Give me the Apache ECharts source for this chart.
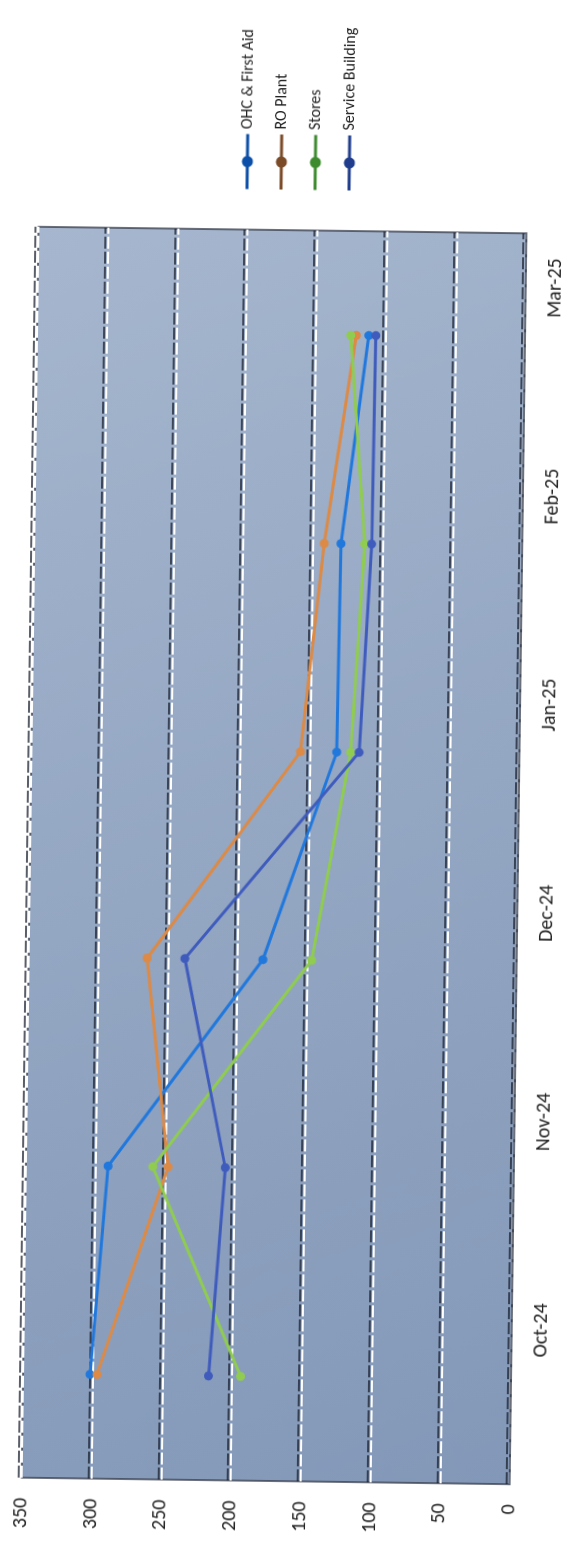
<!DOCTYPE html>
<html>
<head>
<meta charset="utf-8">
<script src="https://cdn.jsdelivr.net/npm/echarts@6/dist/echarts.min.js"></script>
<style>
html,body{margin:0;padding:0;background:#ffffff;width:583px;height:1557px;overflow:hidden;}
#chart{position:absolute;left:0;top:0;width:1557px;height:583px;transform-origin:0 0;
transform:translate(274px,859px) rotate(0.77deg) translate(-274px,-859px) translate(0px,1557px) rotate(-90deg);}
</style>
</head>
<body>
<div id="chart"></div>
<script>
// ---- data ----
const categories = ['Oct-24', 'Nov-24', 'Dec-24', 'Jan-25', 'Feb-25', 'Mar-25'];
const seriesNames = ['OHC & First Aid', 'RO Plant', 'Stores', 'Service Building'];
const ohcFirstAid = [302, 291, 182, 131, 130, 112];
const roPlant = [297, 248, 265, 157, 142, 121];
const stores = [194, 259, 147, 121, 113, 125];
const serviceBuilding = [217, 207, 238, 115, 108, 107];
const valueMin = 0;
const valueMax = 350;
const valueStep = 50;

// ---- styles ----
const lineColors = ['#2178dc', '#dc8a45', '#8fcc4f', '#3f5cbd'];
const legendColors = ['#0b4fa8', '#7b4a26', '#3d8b2e', '#1f3d8c'];
const font = 'Carlito, "Open Sans", "Liberation Sans", sans-serif';

const chart = echarts.init(document.getElementById('chart'), null, {renderer: 'canvas'});

const values = [ohcFirstAid, roPlant, stores, serviceBuilding];

chart.setOption({
  animation: false,
  backgroundColor: '#ffffff',
  grid: {
    left: 76, right: 230, top: 30, bottom: 65,
    show: true,
    backgroundColor: new echarts.graphic.LinearGradient(1, 0, 0, 1, [
      {offset: 0, color: '#a6b6ce'},
      {offset: 0.5, color: '#93a6c2'},
      {offset: 1, color: '#8398b8'}
    ]),
    borderColor: '#3b4150',
    borderWidth: 1.5
  },
  legend: {
    orient: 'vertical',
    left: 1361,
    top: 225,
    itemWidth: 55,
    itemHeight: 14,
    itemGap: 18,
    textStyle: {fontSize: 16, color: '#222', fontFamily: font},
    data: seriesNames.map((n, i) => ({
      name: n,
      itemStyle: {color: legendColors[i]},
      lineStyle: {color: legendColors[i], width: 3}
    }))
  },
  xAxis: {
    type: 'category',
    data: categories,
    boundaryGap: true,
    axisLine: {show: true, lineStyle: {color: '#3b4150', width: 1.5}},
    axisTick: {show: false},
    axisLabel: {
      fontSize: 20, color: '#222', fontFamily: font, margin: 20,
      padding: [0, 0, 0, 100]
    },
    splitLine: {show: false}
  },
  yAxis: {
    type: 'value',
    min: valueMin,
    max: valueMax,
    interval: valueStep,
    axisLine: {show: false},
    axisTick: {show: false},
    axisLabel: {fontSize: 20, color: '#222', fontFamily: font, margin: 20},
    splitLine: {
      show: true,
      lineStyle: {
        color: '#ffffff', width: 2, type: [12, 3],
        shadowColor: 'rgba(20,25,40,0.7)', shadowOffsetY: -3, shadowBlur: 0
      }
    }
  },
  series: seriesNames.map((n, i) => ({
    name: n,
    type: 'line',
    data: values[i],
    symbol: 'circle',
    symbolSize: 9,
    lineStyle: {color: lineColors[i], width: 3},
    itemStyle: {color: lineColors[i]}
  }))
});
</script>
</body>
</html>
